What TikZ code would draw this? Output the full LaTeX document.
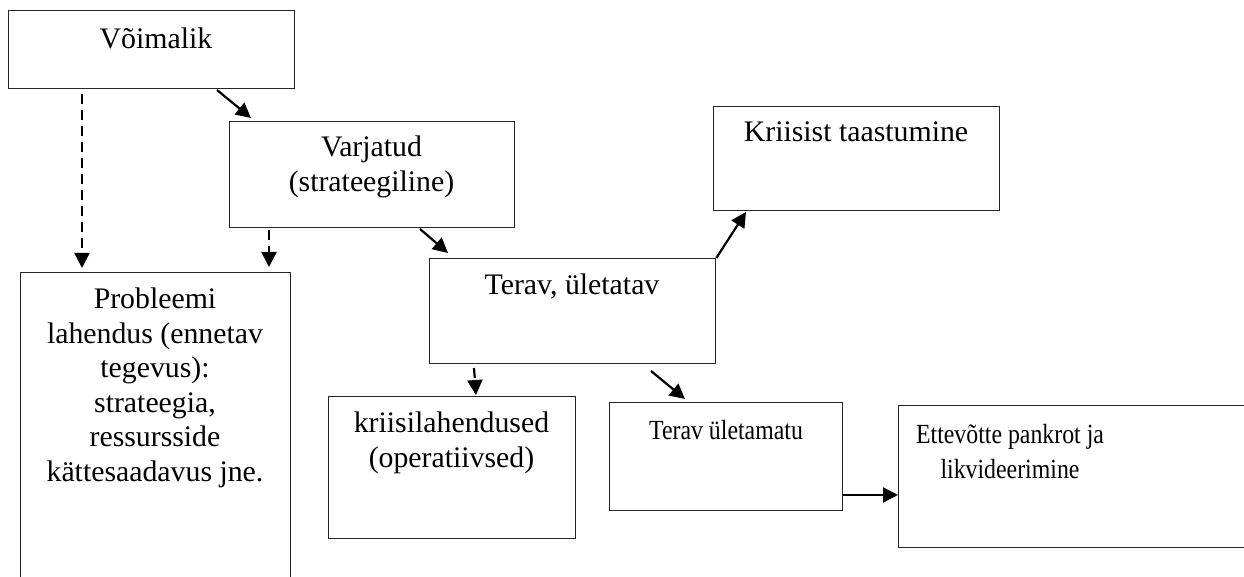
\documentclass[tikz,border=0pt]{standalone}
\usepackage{fontspec}
\setmainfont{Liberation Serif}
\newfontfamily\narrowserif[FakeStretch=0.86]{Liberation Serif}
\usetikzlibrary{arrows.meta}
\begin{document}
\begin{tikzpicture}[x=1pt,y=-1pt,
  boxshape/.style={draw=black!85,line width=1.3pt,rectangle,inner sep=0pt,anchor=north west},
  txt/.style={anchor=north,inner sep=0pt,align=center,font=\fontsize{29.8}{34.5}\selectfont},
  ntxt/.style={anchor=north,inner sep=0pt,align=center,font=\narrowserif\fontsize{27.7}{35}\selectfont},
  conn/.style={line width=2.2pt,-{Triangle[length=15pt,width=15pt]}},
  dconn/.style={conn,dash pattern=on 10pt off 6pt}]
\useasboundingbox (0,0) rectangle (1244,577);
\clip (0,0) rectangle (1244,577);
% boxes
\node[boxshape,minimum width=286pt,minimum height=78pt] (A) at (8,10) {};
\node[boxshape,minimum width=285pt,minimum height=106pt] (B) at (229,121) {};
\node[boxshape,minimum width=270pt,minimum height=330pt] (C) at (20,272) {};
\node[boxshape,minimum width=286pt,minimum height=105pt] (D) at (429,258) {};
\node[boxshape,minimum width=286pt,minimum height=104pt] (E) at (713,106) {};
\node[boxshape,minimum width=247pt,minimum height=142pt] (F) at (328,396) {};
\node[boxshape,minimum width=233pt,minimum height=108pt] (G) at (609,402) {};
\node[boxshape,minimum width=360pt,minimum height=142pt] (H) at (898,405) {};
% texts
\node[txt] (At) at (156,28) {Võimalik};
\node[txt] (Bt) at (371.5,136) {Varjatud\\(strateegiline)};
\node[txt] (Ct) at (155,288) {Probleemi\\lahendus (ennetav\\tegevus):\\strateegia,\\ressursside\\kättesaadavus jne.};
\node[txt] (Dt) at (572,274) {Terav, ületatav};
\node[txt] (Et) at (856,122) {Kriisist taastumine};
\node[txt] (Ft) at (451.5,412) {kriisilahendused\\(operatiivsed)};
\node[ntxt] (Gt) at (726,420) {Terav ületamatu};
\node[ntxt] (Ht) at (1010,424) {Ettevõtte pankrot ja\\likvideerimine};
% connector end points
\coordinate (a1) at (82,94);   \coordinate (c1) at (82,268);
\coordinate (a2) at (217,90);  \coordinate (b2) at (251,118);
\coordinate (b3) at (269,230); \coordinate (c3) at (269,267);
\coordinate (b4) at (420,229); \coordinate (d4) at (448,253);
\coordinate (d5) at (D.north east); \coordinate (e5) at (746,212);
\coordinate (d6) at (474,368); \coordinate (f6) at (476,395);
\coordinate (d7) at (651,371); \coordinate (g7) at (685,399);
\coordinate (g8) at (843,495); \coordinate (h8) at (898,495);
% connectors
\draw[dconn] (a1) -- (c1);
\draw[conn] (a2) -- (b2);
\draw[dconn] (b3) -- (c3);
\draw[conn] (b4) -- (d4);
\draw[conn] (d5) -- (e5);
\draw[dconn] (d6) -- (f6);
\draw[conn] (d7) -- (g7);
\draw[conn] (g8) -- (h8);
\end{tikzpicture}
\end{document}
